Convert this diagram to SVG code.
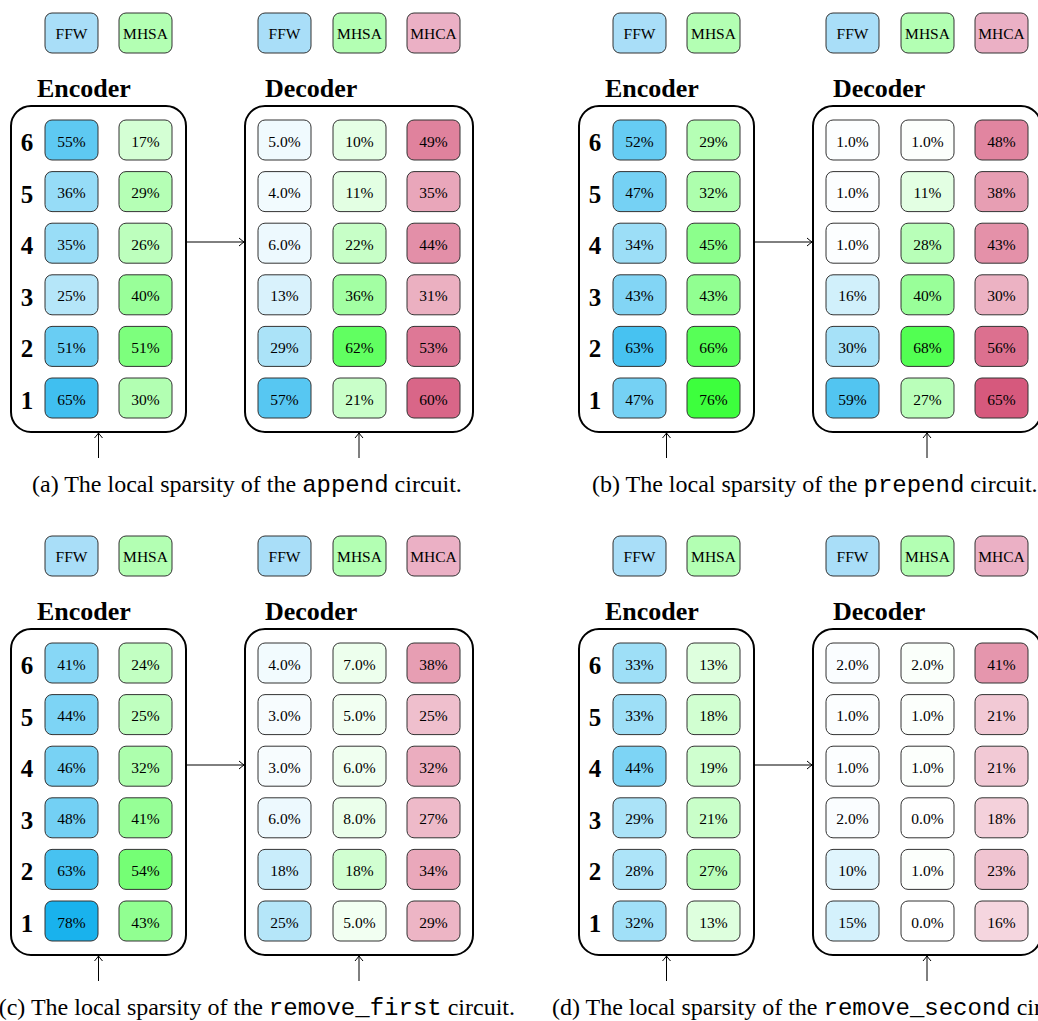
<svg xmlns="http://www.w3.org/2000/svg" width="1038" height="1021" viewBox="0 0 1038 1021">
<defs>
<style>
.bg{fill:#fff}
.cell{width:53px;height:40px;rx:7px;ry:7px;stroke:#333;stroke-width:1}
.F{fill:#00AAEB}.M{fill:#00FF00}.C{fill:#C00038}
.LF{fill:#A9DEF8;fill-opacity:1}.LM{fill:#B3FFB3;fill-opacity:1}.LC{fill:#EBB0C5;fill-opacity:1}
.v{font-family:"Liberation Serif",serif;font-size:15.5px;text-anchor:middle;fill:#000}
.n{font-family:"Liberation Serif",serif;font-size:25px;font-weight:bold;text-anchor:middle;fill:#000}
.t{font-family:"Liberation Serif",serif;font-size:26px;font-weight:bold;fill:#000}
.cap{font-family:"Liberation Serif",serif;font-size:24px;fill:#000}
.mono{font-family:"Liberation Mono",monospace}
.box{fill:none;stroke:#000;stroke-width:2}
.ar{stroke:#000;stroke-width:1;fill:none;marker-end:url(#ah)}
</style>
<marker id="ah" markerUnits="userSpaceOnUse" markerWidth="12" markerHeight="12" viewBox="-7 -6 9 12" refX="0" refY="0" orient="auto">
<path d="M-5,-4 Q-1.5,-1 0,0 Q-1.5,1 -5,4" fill="none" stroke="#000" stroke-width="1"/>
</marker>
</defs>
<rect class="bg" x="0" y="0" width="1038" height="1021"/>

<!-- ===== Panel (a) ===== -->
<g id="panel-a">
<g id="a-leg-enc-ffw" transform="translate(45,13)"><rect class="cell LF"/><text class="v" x="26.5" y="26">FFW</text></g>
<g id="a-leg-enc-mhsa" transform="translate(119,13)"><rect class="cell LM"/><text class="v" x="26.5" y="26">MHSA</text></g>
<g id="a-leg-dec-ffw" transform="translate(258,13)"><rect class="cell LF"/><text class="v" x="26.5" y="26">FFW</text></g>
<g id="a-leg-dec-mhsa" transform="translate(333,13)"><rect class="cell LM"/><text class="v" x="26.5" y="26">MHSA</text></g>
<g id="a-leg-dec-mhca" transform="translate(407,13)"><rect class="cell LC"/><text class="v" x="26.5" y="26">MHCA</text></g>
<text class="t" x="37" y="97">Encoder</text>
<text class="t" x="265" y="97">Decoder</text>
<g id="a-encoder"><rect class="box" x="11" y="106" width="175" height="326" rx="20"/></g>
<g id="a-decoder"><rect class="box" x="245" y="106" width="228" height="326" rx="20"/></g>
<text class="n" x="27" y="151">6</text><text class="n" x="27" y="202.6">5</text><text class="n" x="27" y="254.2">4</text><text class="n" x="27" y="305.8">3</text><text class="n" x="27" y="357.4">2</text><text class="n" x="27" y="409">1</text>
<g id="a-e6f" transform="translate(45,120)"><rect class="cell F" fill-opacity=".63"/><text class="v" x="26.5" y="26.5">55%</text></g>
<g id="a-e6m" transform="translate(119,120)"><rect class="cell M" fill-opacity=".17"/><text class="v" x="26.5" y="26.5">17%</text></g>
<g id="a-e5f" transform="translate(45,171.6)"><rect class="cell F" fill-opacity=".41"/><text class="v" x="26.5" y="26.5">36%</text></g>
<g id="a-e5m" transform="translate(119,171.6)"><rect class="cell M" fill-opacity=".29"/><text class="v" x="26.5" y="26.5">29%</text></g>
<g id="a-e4f" transform="translate(45,223.2)"><rect class="cell F" fill-opacity=".40"/><text class="v" x="26.5" y="26.5">35%</text></g>
<g id="a-e4m" transform="translate(119,223.2)"><rect class="cell M" fill-opacity=".26"/><text class="v" x="26.5" y="26.5">26%</text></g>
<g id="a-e3f" transform="translate(45,274.8)"><rect class="cell F" fill-opacity=".29"/><text class="v" x="26.5" y="26.5">25%</text></g>
<g id="a-e3m" transform="translate(119,274.8)"><rect class="cell M" fill-opacity=".40"/><text class="v" x="26.5" y="26.5">40%</text></g>
<g id="a-e2f" transform="translate(45,326.4)"><rect class="cell F" fill-opacity=".59"/><text class="v" x="26.5" y="26.5">51%</text></g>
<g id="a-e2m" transform="translate(119,326.4)"><rect class="cell M" fill-opacity=".51"/><text class="v" x="26.5" y="26.5">51%</text></g>
<g id="a-e1f" transform="translate(45,378)"><rect class="cell F" fill-opacity=".75"/><text class="v" x="26.5" y="26.5">65%</text></g>
<g id="a-e1m" transform="translate(119,378)"><rect class="cell M" fill-opacity=".30"/><text class="v" x="26.5" y="26.5">30%</text></g>
<g id="a-d6f" transform="translate(258,120)"><rect class="cell F" fill-opacity=".06"/><text class="v" x="26.5" y="26.5">5.0%</text></g>
<g id="a-d6m" transform="translate(333,120)"><rect class="cell M" fill-opacity=".10"/><text class="v" x="26.5" y="26.5">10%</text></g>
<g id="a-d6c" transform="translate(407,120)"><rect class="cell C" fill-opacity=".49"/><text class="v" x="26.5" y="26.5">49%</text></g>
<g id="a-d5f" transform="translate(258,171.6)"><rect class="cell F" fill-opacity=".05"/><text class="v" x="26.5" y="26.5">4.0%</text></g>
<g id="a-d5m" transform="translate(333,171.6)"><rect class="cell M" fill-opacity=".11"/><text class="v" x="26.5" y="26.5">11%</text></g>
<g id="a-d5c" transform="translate(407,171.6)"><rect class="cell C" fill-opacity=".35"/><text class="v" x="26.5" y="26.5">35%</text></g>
<g id="a-d4f" transform="translate(258,223.2)"><rect class="cell F" fill-opacity=".07"/><text class="v" x="26.5" y="26.5">6.0%</text></g>
<g id="a-d4m" transform="translate(333,223.2)"><rect class="cell M" fill-opacity=".22"/><text class="v" x="26.5" y="26.5">22%</text></g>
<g id="a-d4c" transform="translate(407,223.2)"><rect class="cell C" fill-opacity=".44"/><text class="v" x="26.5" y="26.5">44%</text></g>
<g id="a-d3f" transform="translate(258,274.8)"><rect class="cell F" fill-opacity=".15"/><text class="v" x="26.5" y="26.5">13%</text></g>
<g id="a-d3m" transform="translate(333,274.8)"><rect class="cell M" fill-opacity=".36"/><text class="v" x="26.5" y="26.5">36%</text></g>
<g id="a-d3c" transform="translate(407,274.8)"><rect class="cell C" fill-opacity=".31"/><text class="v" x="26.5" y="26.5">31%</text></g>
<g id="a-d2f" transform="translate(258,326.4)"><rect class="cell F" fill-opacity=".33"/><text class="v" x="26.5" y="26.5">29%</text></g>
<g id="a-d2m" transform="translate(333,326.4)"><rect class="cell M" fill-opacity=".62"/><text class="v" x="26.5" y="26.5">62%</text></g>
<g id="a-d2c" transform="translate(407,326.4)"><rect class="cell C" fill-opacity=".53"/><text class="v" x="26.5" y="26.5">53%</text></g>
<g id="a-d1f" transform="translate(258,378)"><rect class="cell F" fill-opacity=".66"/><text class="v" x="26.5" y="26.5">57%</text></g>
<g id="a-d1m" transform="translate(333,378)"><rect class="cell M" fill-opacity=".21"/><text class="v" x="26.5" y="26.5">21%</text></g>
<g id="a-d1c" transform="translate(407,378)"><rect class="cell C" fill-opacity=".60"/><text class="v" x="26.5" y="26.5">60%</text></g>
<g id="a-connectors"><line class="ar" x1="187" y1="242" x2="244" y2="242"/><line class="ar" x1="98.5" y1="458" x2="98.5" y2="433"/><line class="ar" x1="359" y1="458" x2="359" y2="433"/></g>
<text class="cap" x="32" y="492">(a) The local sparsity of the <tspan class="mono">append</tspan> circuit.</text>
</g>

<!-- ===== Panel (b) ===== -->
<g id="panel-b" transform="translate(568,0)">
<g id="b-leg-enc-ffw" transform="translate(45,13)"><rect class="cell LF"/><text class="v" x="26.5" y="26">FFW</text></g>
<g id="b-leg-enc-mhsa" transform="translate(119,13)"><rect class="cell LM"/><text class="v" x="26.5" y="26">MHSA</text></g>
<g id="b-leg-dec-ffw" transform="translate(258,13)"><rect class="cell LF"/><text class="v" x="26.5" y="26">FFW</text></g>
<g id="b-leg-dec-mhsa" transform="translate(333,13)"><rect class="cell LM"/><text class="v" x="26.5" y="26">MHSA</text></g>
<g id="b-leg-dec-mhca" transform="translate(407,13)"><rect class="cell LC"/><text class="v" x="26.5" y="26">MHCA</text></g>
<text class="t" x="37" y="97">Encoder</text>
<text class="t" x="265" y="97">Decoder</text>
<g id="b-encoder"><rect class="box" x="11" y="106" width="175" height="326" rx="20"/></g>
<g id="b-decoder"><rect class="box" x="245" y="106" width="228" height="326" rx="20"/></g>
<text class="n" x="27" y="151">6</text><text class="n" x="27" y="202.6">5</text><text class="n" x="27" y="254.2">4</text><text class="n" x="27" y="305.8">3</text><text class="n" x="27" y="357.4">2</text><text class="n" x="27" y="409">1</text>
<g id="b-e6f" transform="translate(45,120)"><rect class="cell F" fill-opacity=".60"/><text class="v" x="26.5" y="26.5">52%</text></g>
<g id="b-e6m" transform="translate(119,120)"><rect class="cell M" fill-opacity=".29"/><text class="v" x="26.5" y="26.5">29%</text></g>
<g id="b-e5f" transform="translate(45,171.6)"><rect class="cell F" fill-opacity=".54"/><text class="v" x="26.5" y="26.5">47%</text></g>
<g id="b-e5m" transform="translate(119,171.6)"><rect class="cell M" fill-opacity=".32"/><text class="v" x="26.5" y="26.5">32%</text></g>
<g id="b-e4f" transform="translate(45,223.2)"><rect class="cell F" fill-opacity=".39"/><text class="v" x="26.5" y="26.5">34%</text></g>
<g id="b-e4m" transform="translate(119,223.2)"><rect class="cell M" fill-opacity=".45"/><text class="v" x="26.5" y="26.5">45%</text></g>
<g id="b-e3f" transform="translate(45,274.8)"><rect class="cell F" fill-opacity=".49"/><text class="v" x="26.5" y="26.5">43%</text></g>
<g id="b-e3m" transform="translate(119,274.8)"><rect class="cell M" fill-opacity=".43"/><text class="v" x="26.5" y="26.5">43%</text></g>
<g id="b-e2f" transform="translate(45,326.4)"><rect class="cell F" fill-opacity=".72"/><text class="v" x="26.5" y="26.5">63%</text></g>
<g id="b-e2m" transform="translate(119,326.4)"><rect class="cell M" fill-opacity=".66"/><text class="v" x="26.5" y="26.5">66%</text></g>
<g id="b-e1f" transform="translate(45,378)"><rect class="cell F" fill-opacity=".54"/><text class="v" x="26.5" y="26.5">47%</text></g>
<g id="b-e1m" transform="translate(119,378)"><rect class="cell M" fill-opacity=".76"/><text class="v" x="26.5" y="26.5">76%</text></g>
<g id="b-d6f" transform="translate(258,120)"><rect class="cell F" fill-opacity=".01"/><text class="v" x="26.5" y="26.5">1.0%</text></g>
<g id="b-d6m" transform="translate(333,120)"><rect class="cell M" fill-opacity=".01"/><text class="v" x="26.5" y="26.5">1.0%</text></g>
<g id="b-d6c" transform="translate(407,120)"><rect class="cell C" fill-opacity=".48"/><text class="v" x="26.5" y="26.5">48%</text></g>
<g id="b-d5f" transform="translate(258,171.6)"><rect class="cell F" fill-opacity=".01"/><text class="v" x="26.5" y="26.5">1.0%</text></g>
<g id="b-d5m" transform="translate(333,171.6)"><rect class="cell M" fill-opacity=".11"/><text class="v" x="26.5" y="26.5">11%</text></g>
<g id="b-d5c" transform="translate(407,171.6)"><rect class="cell C" fill-opacity=".38"/><text class="v" x="26.5" y="26.5">38%</text></g>
<g id="b-d4f" transform="translate(258,223.2)"><rect class="cell F" fill-opacity=".01"/><text class="v" x="26.5" y="26.5">1.0%</text></g>
<g id="b-d4m" transform="translate(333,223.2)"><rect class="cell M" fill-opacity=".28"/><text class="v" x="26.5" y="26.5">28%</text></g>
<g id="b-d4c" transform="translate(407,223.2)"><rect class="cell C" fill-opacity=".43"/><text class="v" x="26.5" y="26.5">43%</text></g>
<g id="b-d3f" transform="translate(258,274.8)"><rect class="cell F" fill-opacity=".18"/><text class="v" x="26.5" y="26.5">16%</text></g>
<g id="b-d3m" transform="translate(333,274.8)"><rect class="cell M" fill-opacity=".40"/><text class="v" x="26.5" y="26.5">40%</text></g>
<g id="b-d3c" transform="translate(407,274.8)"><rect class="cell C" fill-opacity=".30"/><text class="v" x="26.5" y="26.5">30%</text></g>
<g id="b-d2f" transform="translate(258,326.4)"><rect class="cell F" fill-opacity=".35"/><text class="v" x="26.5" y="26.5">30%</text></g>
<g id="b-d2m" transform="translate(333,326.4)"><rect class="cell M" fill-opacity=".68"/><text class="v" x="26.5" y="26.5">68%</text></g>
<g id="b-d2c" transform="translate(407,326.4)"><rect class="cell C" fill-opacity=".56"/><text class="v" x="26.5" y="26.5">56%</text></g>
<g id="b-d1f" transform="translate(258,378)"><rect class="cell F" fill-opacity=".68"/><text class="v" x="26.5" y="26.5">59%</text></g>
<g id="b-d1m" transform="translate(333,378)"><rect class="cell M" fill-opacity=".27"/><text class="v" x="26.5" y="26.5">27%</text></g>
<g id="b-d1c" transform="translate(407,378)"><rect class="cell C" fill-opacity=".65"/><text class="v" x="26.5" y="26.5">65%</text></g>
<g id="b-connectors"><line class="ar" x1="187" y1="242" x2="244" y2="242"/><line class="ar" x1="98.5" y1="458" x2="98.5" y2="433"/><line class="ar" x1="359" y1="458" x2="359" y2="433"/></g>
<text class="cap" x="24" y="492">(b) The local sparsity of the <tspan class="mono">prepend</tspan> circuit.</text>
</g>

<!-- ===== Panel (c) ===== -->
<g id="panel-c" transform="translate(0,523)">
<g id="c-leg-enc-ffw" transform="translate(45,13)"><rect class="cell LF"/><text class="v" x="26.5" y="26">FFW</text></g>
<g id="c-leg-enc-mhsa" transform="translate(119,13)"><rect class="cell LM"/><text class="v" x="26.5" y="26">MHSA</text></g>
<g id="c-leg-dec-ffw" transform="translate(258,13)"><rect class="cell LF"/><text class="v" x="26.5" y="26">FFW</text></g>
<g id="c-leg-dec-mhsa" transform="translate(333,13)"><rect class="cell LM"/><text class="v" x="26.5" y="26">MHSA</text></g>
<g id="c-leg-dec-mhca" transform="translate(407,13)"><rect class="cell LC"/><text class="v" x="26.5" y="26">MHCA</text></g>
<text class="t" x="37" y="97">Encoder</text>
<text class="t" x="265" y="97">Decoder</text>
<g id="c-encoder"><rect class="box" x="11" y="106" width="175" height="326" rx="20"/></g>
<g id="c-decoder"><rect class="box" x="245" y="106" width="228" height="326" rx="20"/></g>
<text class="n" x="27" y="151">6</text><text class="n" x="27" y="202.6">5</text><text class="n" x="27" y="254.2">4</text><text class="n" x="27" y="305.8">3</text><text class="n" x="27" y="357.4">2</text><text class="n" x="27" y="409">1</text>
<g id="c-e6f" transform="translate(45,120)"><rect class="cell F" fill-opacity=".47"/><text class="v" x="26.5" y="26.5">41%</text></g>
<g id="c-e6m" transform="translate(119,120)"><rect class="cell M" fill-opacity=".24"/><text class="v" x="26.5" y="26.5">24%</text></g>
<g id="c-e5f" transform="translate(45,171.6)"><rect class="cell F" fill-opacity=".51"/><text class="v" x="26.5" y="26.5">44%</text></g>
<g id="c-e5m" transform="translate(119,171.6)"><rect class="cell M" fill-opacity=".25"/><text class="v" x="26.5" y="26.5">25%</text></g>
<g id="c-e4f" transform="translate(45,223.2)"><rect class="cell F" fill-opacity=".53"/><text class="v" x="26.5" y="26.5">46%</text></g>
<g id="c-e4m" transform="translate(119,223.2)"><rect class="cell M" fill-opacity=".32"/><text class="v" x="26.5" y="26.5">32%</text></g>
<g id="c-e3f" transform="translate(45,274.8)"><rect class="cell F" fill-opacity=".55"/><text class="v" x="26.5" y="26.5">48%</text></g>
<g id="c-e3m" transform="translate(119,274.8)"><rect class="cell M" fill-opacity=".41"/><text class="v" x="26.5" y="26.5">41%</text></g>
<g id="c-e2f" transform="translate(45,326.4)"><rect class="cell F" fill-opacity=".72"/><text class="v" x="26.5" y="26.5">63%</text></g>
<g id="c-e2m" transform="translate(119,326.4)"><rect class="cell M" fill-opacity=".54"/><text class="v" x="26.5" y="26.5">54%</text></g>
<g id="c-e1f" transform="translate(45,378)"><rect class="cell F" fill-opacity=".90"/><text class="v" x="26.5" y="26.5">78%</text></g>
<g id="c-e1m" transform="translate(119,378)"><rect class="cell M" fill-opacity=".43"/><text class="v" x="26.5" y="26.5">43%</text></g>
<g id="c-d6f" transform="translate(258,120)"><rect class="cell F" fill-opacity=".05"/><text class="v" x="26.5" y="26.5">4.0%</text></g>
<g id="c-d6m" transform="translate(333,120)"><rect class="cell M" fill-opacity=".07"/><text class="v" x="26.5" y="26.5">7.0%</text></g>
<g id="c-d6c" transform="translate(407,120)"><rect class="cell C" fill-opacity=".38"/><text class="v" x="26.5" y="26.5">38%</text></g>
<g id="c-d5f" transform="translate(258,171.6)"><rect class="cell F" fill-opacity=".03"/><text class="v" x="26.5" y="26.5">3.0%</text></g>
<g id="c-d5m" transform="translate(333,171.6)"><rect class="cell M" fill-opacity=".05"/><text class="v" x="26.5" y="26.5">5.0%</text></g>
<g id="c-d5c" transform="translate(407,171.6)"><rect class="cell C" fill-opacity=".25"/><text class="v" x="26.5" y="26.5">25%</text></g>
<g id="c-d4f" transform="translate(258,223.2)"><rect class="cell F" fill-opacity=".03"/><text class="v" x="26.5" y="26.5">3.0%</text></g>
<g id="c-d4m" transform="translate(333,223.2)"><rect class="cell M" fill-opacity=".06"/><text class="v" x="26.5" y="26.5">6.0%</text></g>
<g id="c-d4c" transform="translate(407,223.2)"><rect class="cell C" fill-opacity=".32"/><text class="v" x="26.5" y="26.5">32%</text></g>
<g id="c-d3f" transform="translate(258,274.8)"><rect class="cell F" fill-opacity=".07"/><text class="v" x="26.5" y="26.5">6.0%</text></g>
<g id="c-d3m" transform="translate(333,274.8)"><rect class="cell M" fill-opacity=".08"/><text class="v" x="26.5" y="26.5">8.0%</text></g>
<g id="c-d3c" transform="translate(407,274.8)"><rect class="cell C" fill-opacity=".27"/><text class="v" x="26.5" y="26.5">27%</text></g>
<g id="c-d2f" transform="translate(258,326.4)"><rect class="cell F" fill-opacity=".21"/><text class="v" x="26.5" y="26.5">18%</text></g>
<g id="c-d2m" transform="translate(333,326.4)"><rect class="cell M" fill-opacity=".18"/><text class="v" x="26.5" y="26.5">18%</text></g>
<g id="c-d2c" transform="translate(407,326.4)"><rect class="cell C" fill-opacity=".34"/><text class="v" x="26.5" y="26.5">34%</text></g>
<g id="c-d1f" transform="translate(258,378)"><rect class="cell F" fill-opacity=".29"/><text class="v" x="26.5" y="26.5">25%</text></g>
<g id="c-d1m" transform="translate(333,378)"><rect class="cell M" fill-opacity=".05"/><text class="v" x="26.5" y="26.5">5.0%</text></g>
<g id="c-d1c" transform="translate(407,378)"><rect class="cell C" fill-opacity=".29"/><text class="v" x="26.5" y="26.5">29%</text></g>
<g id="c-connectors"><line class="ar" x1="187" y1="242" x2="244" y2="242"/><line class="ar" x1="98.5" y1="458" x2="98.5" y2="433"/><line class="ar" x1="359" y1="458" x2="359" y2="433"/></g>
<text class="cap" x="515" y="492" text-anchor="end">(c) The local sparsity of the <tspan class="mono">remove_first</tspan> circuit.</text>
</g>

<!-- ===== Panel (d) ===== -->
<g id="panel-d" transform="translate(568,523)">
<g id="d-leg-enc-ffw" transform="translate(45,13)"><rect class="cell LF"/><text class="v" x="26.5" y="26">FFW</text></g>
<g id="d-leg-enc-mhsa" transform="translate(119,13)"><rect class="cell LM"/><text class="v" x="26.5" y="26">MHSA</text></g>
<g id="d-leg-dec-ffw" transform="translate(258,13)"><rect class="cell LF"/><text class="v" x="26.5" y="26">FFW</text></g>
<g id="d-leg-dec-mhsa" transform="translate(333,13)"><rect class="cell LM"/><text class="v" x="26.5" y="26">MHSA</text></g>
<g id="d-leg-dec-mhca" transform="translate(407,13)"><rect class="cell LC"/><text class="v" x="26.5" y="26">MHCA</text></g>
<text class="t" x="37" y="97">Encoder</text>
<text class="t" x="265" y="97">Decoder</text>
<g id="d-encoder"><rect class="box" x="11" y="106" width="175" height="326" rx="20"/></g>
<g id="d-decoder"><rect class="box" x="245" y="106" width="228" height="326" rx="20"/></g>
<text class="n" x="27" y="151">6</text><text class="n" x="27" y="202.6">5</text><text class="n" x="27" y="254.2">4</text><text class="n" x="27" y="305.8">3</text><text class="n" x="27" y="357.4">2</text><text class="n" x="27" y="409">1</text>
<g id="d-e6f" transform="translate(45,120)"><rect class="cell F" fill-opacity=".38"/><text class="v" x="26.5" y="26.5">33%</text></g>
<g id="d-e6m" transform="translate(119,120)"><rect class="cell M" fill-opacity=".13"/><text class="v" x="26.5" y="26.5">13%</text></g>
<g id="d-e5f" transform="translate(45,171.6)"><rect class="cell F" fill-opacity=".38"/><text class="v" x="26.5" y="26.5">33%</text></g>
<g id="d-e5m" transform="translate(119,171.6)"><rect class="cell M" fill-opacity=".18"/><text class="v" x="26.5" y="26.5">18%</text></g>
<g id="d-e4f" transform="translate(45,223.2)"><rect class="cell F" fill-opacity=".51"/><text class="v" x="26.5" y="26.5">44%</text></g>
<g id="d-e4m" transform="translate(119,223.2)"><rect class="cell M" fill-opacity=".19"/><text class="v" x="26.5" y="26.5">19%</text></g>
<g id="d-e3f" transform="translate(45,274.8)"><rect class="cell F" fill-opacity=".33"/><text class="v" x="26.5" y="26.5">29%</text></g>
<g id="d-e3m" transform="translate(119,274.8)"><rect class="cell M" fill-opacity=".21"/><text class="v" x="26.5" y="26.5">21%</text></g>
<g id="d-e2f" transform="translate(45,326.4)"><rect class="cell F" fill-opacity=".32"/><text class="v" x="26.5" y="26.5">28%</text></g>
<g id="d-e2m" transform="translate(119,326.4)"><rect class="cell M" fill-opacity=".27"/><text class="v" x="26.5" y="26.5">27%</text></g>
<g id="d-e1f" transform="translate(45,378)"><rect class="cell F" fill-opacity=".37"/><text class="v" x="26.5" y="26.5">32%</text></g>
<g id="d-e1m" transform="translate(119,378)"><rect class="cell M" fill-opacity=".13"/><text class="v" x="26.5" y="26.5">13%</text></g>
<g id="d-d6f" transform="translate(258,120)"><rect class="cell F" fill-opacity=".02"/><text class="v" x="26.5" y="26.5">2.0%</text></g>
<g id="d-d6m" transform="translate(333,120)"><rect class="cell M" fill-opacity=".02"/><text class="v" x="26.5" y="26.5">2.0%</text></g>
<g id="d-d6c" transform="translate(407,120)"><rect class="cell C" fill-opacity=".41"/><text class="v" x="26.5" y="26.5">41%</text></g>
<g id="d-d5f" transform="translate(258,171.6)"><rect class="cell F" fill-opacity=".01"/><text class="v" x="26.5" y="26.5">1.0%</text></g>
<g id="d-d5m" transform="translate(333,171.6)"><rect class="cell M" fill-opacity=".01"/><text class="v" x="26.5" y="26.5">1.0%</text></g>
<g id="d-d5c" transform="translate(407,171.6)"><rect class="cell C" fill-opacity=".21"/><text class="v" x="26.5" y="26.5">21%</text></g>
<g id="d-d4f" transform="translate(258,223.2)"><rect class="cell F" fill-opacity=".01"/><text class="v" x="26.5" y="26.5">1.0%</text></g>
<g id="d-d4m" transform="translate(333,223.2)"><rect class="cell M" fill-opacity=".01"/><text class="v" x="26.5" y="26.5">1.0%</text></g>
<g id="d-d4c" transform="translate(407,223.2)"><rect class="cell C" fill-opacity=".21"/><text class="v" x="26.5" y="26.5">21%</text></g>
<g id="d-d3f" transform="translate(258,274.8)"><rect class="cell F" fill-opacity=".02"/><text class="v" x="26.5" y="26.5">2.0%</text></g>
<g id="d-d3m" transform="translate(333,274.8)"><rect class="cell M" fill-opacity="0"/><text class="v" x="26.5" y="26.5">0.0%</text></g>
<g id="d-d3c" transform="translate(407,274.8)"><rect class="cell C" fill-opacity=".18"/><text class="v" x="26.5" y="26.5">18%</text></g>
<g id="d-d2f" transform="translate(258,326.4)"><rect class="cell F" fill-opacity=".12"/><text class="v" x="26.5" y="26.5">10%</text></g>
<g id="d-d2m" transform="translate(333,326.4)"><rect class="cell M" fill-opacity=".01"/><text class="v" x="26.5" y="26.5">1.0%</text></g>
<g id="d-d2c" transform="translate(407,326.4)"><rect class="cell C" fill-opacity=".23"/><text class="v" x="26.5" y="26.5">23%</text></g>
<g id="d-d1f" transform="translate(258,378)"><rect class="cell F" fill-opacity=".17"/><text class="v" x="26.5" y="26.5">15%</text></g>
<g id="d-d1m" transform="translate(333,378)"><rect class="cell M" fill-opacity="0"/><text class="v" x="26.5" y="26.5">0.0%</text></g>
<g id="d-d1c" transform="translate(407,378)"><rect class="cell C" fill-opacity=".16"/><text class="v" x="26.5" y="26.5">16%</text></g>
<g id="d-connectors"><line class="ar" x1="187" y1="242" x2="244" y2="242"/><line class="ar" x1="98.5" y1="458" x2="98.5" y2="433"/><line class="ar" x1="359" y1="458" x2="359" y2="433"/></g>
<text class="cap" x="-16" y="492">(d) The local sparsity of the <tspan class="mono">remove_second</tspan> circuit.</text>
</g>
</svg>
